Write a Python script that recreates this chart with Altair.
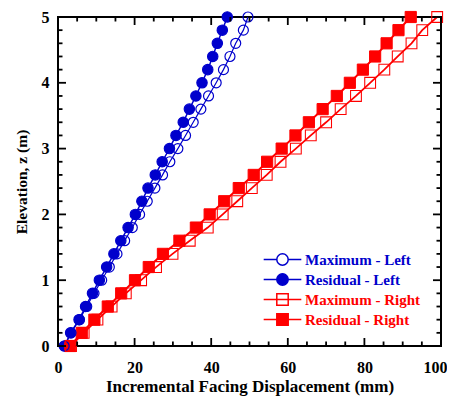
import altair as alt
import pandas as pd

# ---------------- data ----------------
elevation = [0.0, 0.2, 0.4, 0.6, 0.8, 1.0, 1.2, 1.4, 1.6, 1.8, 2.0, 2.2, 2.4,
             2.6, 2.8, 3.0, 3.2, 3.4, 3.6, 3.8, 4.0, 4.2, 4.4, 4.6, 4.8, 5.0]

max_left = [1.6, 3.4, 5.6, 7.5, 9.4, 11.4, 13.4, 15.4, 17.4, 19.4, 21.3, 23.3, 25.3,
            27.3, 29.2, 31.3, 33.3, 35.3, 37.3, 39.3, 41.3, 43.2, 44.9, 46.4, 48.4, 49.6]
res_left = [1.8, 3.3, 5.5, 7.2, 9.0, 10.8, 12.7, 14.6, 16.4, 18.3, 20.2, 21.9, 23.5,
            25.4, 27.2, 29.1, 30.8, 32.7, 34.3, 36.0, 37.6, 39.1, 40.4, 41.6, 42.9, 44.2]
max_right = [3.4, 6.7, 10.3, 14.0, 17.7, 21.7, 25.6, 29.9, 34.4, 39.1, 43.0, 46.8, 50.6,
             54.5, 58.1, 62.1, 66.0, 70.0, 73.8, 77.8, 81.5, 85.2, 88.7, 92.3, 95.1, 99.0]
res_right = [3.2, 6.2, 9.5, 13.0, 16.5, 20.1, 23.7, 27.4, 31.7, 36.0, 39.6, 43.4, 47.2,
             51.1, 54.6, 58.4, 62.0, 65.5, 69.1, 72.8, 76.2, 79.6, 82.8, 85.8, 88.9, 92.1]

series_names = ["Maximum - Left", "Residual - Left", "Maximum - Right", "Residual - Right"]

x_major = [0, 20, 40, 60, 80, 100]
x_minor = [5, 10, 15, 25, 30, 35, 45, 50, 55, 65, 70, 75, 85, 90, 95]
y_major = [0, 1, 2, 3, 4, 5]
y_minor = [0.2, 0.4, 0.6, 0.8, 1.2, 1.4, 1.6, 1.8, 2.2, 2.4, 2.6, 2.8,
           3.2, 3.4, 3.6, 3.8, 4.2, 4.4, 4.6, 4.8]

# ---------------- styling ----------------
BLUE = "#0000CC"
RED = "#FF0000"
W, H = 383, 329
FONT = "Liberation Serif"

values_by_series = {
    "Residual - Left": res_left,
    "Residual - Right": res_right,
    "Maximum - Left": max_left,
    "Maximum - Right": max_right,
}
rows = []
for order, (name, vals) in enumerate(values_by_series.items()):
    for z, d in zip(elevation, vals):
        rows.append({"series": name, "disp": d, "z": z, "ord": order})
df = pd.DataFrame(rows)

x_scale = alt.Scale(domain=[0, 100], nice=False, zero=False)
y_scale = alt.Scale(domain=[0, 5], nice=False, zero=False)

last_x = x_major[-1]
x_enc = alt.X("disp:Q", scale=x_scale,
              axis=alt.Axis(title="Incremental Facing Displacement (mm)", values=x_major,
                            ticks=False, domain=False, grid=False, labelPadding=13,
                            titlePadding=3, format="d", labelFlush=False,
                            titleFontSize=17,
                            labelAlign={"condition": {"test": "datum.value == %d" % last_x, "value": "right"},
                                        "value": "center"},
                            labelOffset={"condition": {"test": "datum.value == %d" % last_x, "value": 6},
                                         "value": 0}))
y_enc = alt.Y("z:Q", scale=y_scale,
              axis=alt.Axis(title="Elevation, z (m)", values=y_major, ticks=False,
                            domain=False, grid=False, labelPadding=9, titlePadding=12,
                            format="d", labelFlush=False, titleFontSize=15.5))

stroke_range = [BLUE, BLUE, RED, RED]
fill_range = ["transparent", BLUE, "transparent", RED]

base = alt.Chart(df)

lines = base.mark_line().encode(
    x=x_enc, y=y_enc,
    color=alt.Color("series:N", scale=alt.Scale(domain=series_names, range=stroke_range), legend=None),
    strokeWidth=alt.StrokeWidth("series:N", scale=alt.Scale(domain=series_names, range=[1.2, 2, 1.5, 2]), legend=None),
    order=alt.Order("z:Q"),
)

points = base.mark_point(opacity=1).encode(
    x=alt.X("disp:Q", scale=x_scale),
    y=alt.Y("z:Q", scale=y_scale),
    shape=alt.Shape("series:N", scale=alt.Scale(domain=series_names, range=["circle", "circle", "square", "square"]), legend=None),
    stroke=alt.Stroke("series:N", scale=alt.Scale(domain=series_names, range=stroke_range), legend=None),
    fill=alt.Fill("series:N", scale=alt.Scale(domain=series_names, range=fill_range), legend=None),
    size=alt.Size("series:N", scale=alt.Scale(domain=series_names, range=[100, 125, 110, 130]), legend=None),
    strokeWidth=alt.StrokeWidth("series:N", scale=alt.Scale(domain=series_names, range=[1.2, 1, 1.5, 1]), legend=None),
    order=alt.Order("ord:Q"),
)

circ_path = "M-3.3,0H-1M1,0H3.3M-1,0A1,1,0,1,1,1,0A1,1,0,1,1,-1,0Z"
sq_path = "M-3.3,0H3.3M-1,-1H1V1H-1Z"

label_color_expr = "indexof(datum.label, 'Left') >= 0 ? '%s' : '%s'" % (BLUE, RED)

legend = alt.Legend(
    title=None, orient="none", legendX=217, legendY=235, padding=0,
    labelFont=FONT, labelFontSize=15, labelFontWeight="bold",
    labelColor=alt.ExprRef(label_color_expr),
    labelOffset=15, rowPadding=1, symbolSize=130, symbolStrokeWidth=1.5,
    labelLimit=300,
)

legend_layer = base.transform_filter("false").mark_point(opacity=1, size=130, strokeWidth=1.5).encode(
    x=alt.X("disp:Q", scale=x_scale),
    y=alt.Y("z:Q", scale=y_scale),
    shape=alt.Shape("series:N", scale=alt.Scale(domain=series_names, range=[circ_path, circ_path, sq_path, sq_path]), legend=legend),
    stroke=alt.Stroke("series:N", scale=alt.Scale(domain=series_names, range=stroke_range), legend=legend),
    fill=alt.Fill("series:N", scale=alt.Scale(domain=series_names, range=fill_range), legend=legend),
)

# inward ticks drawn as rules at the tick values
xmaj = alt.Chart(pd.DataFrame({"t": x_major}))
xmin = alt.Chart(pd.DataFrame({"t": x_minor}))
ymaj = alt.Chart(pd.DataFrame({"t": y_major}))
ymin = alt.Chart(pd.DataFrame({"t": y_minor}))

def xticks(src, length):
    bottom = src.mark_rule(color="black", strokeWidth=1.8).encode(
        x=alt.X("t:Q", scale=x_scale), y=alt.value(H), y2=alt.value(H - length))
    top = src.mark_rule(color="black", strokeWidth=1.8).encode(
        x=alt.X("t:Q", scale=x_scale), y=alt.value(0), y2=alt.value(length))
    return [bottom, top]

def yticks(src, length):
    left = src.mark_rule(color="black", strokeWidth=1.8).encode(
        y=alt.Y("t:Q", scale=y_scale), x=alt.value(0), x2=alt.value(length))
    right = src.mark_rule(color="black", strokeWidth=1.8).encode(
        y=alt.Y("t:Q", scale=y_scale), x=alt.value(W), x2=alt.value(W - length))
    return [left, right]

tick_layers = xticks(xmaj, 8) + xticks(xmin, 4.5) + yticks(ymaj, 8) + yticks(ymin, 4.5)

chart = alt.layer(lines, points, legend_layer, *tick_layers).resolve_scale(
    shape="independent", stroke="independent", fill="independent", size="independent",
    strokeWidth="independent",
).properties(
    width=W, height=H,
    autosize=alt.AutoSizeParams(type="none"),
    padding={"left": 50, "top": 9, "right": 6, "bottom": 50},
    background="white",
).configure_view(
    stroke="black", strokeWidth=2,
).configure_axis(
    labelFont=FONT, labelFontSize=16, labelFontWeight="bold", labelColor="black",
    titleFont=FONT, titleFontSize=15, titleFontWeight="bold", titleColor="black",
)

chart.save("out.html", embed_options={"renderer": "svg", "actions": False})
